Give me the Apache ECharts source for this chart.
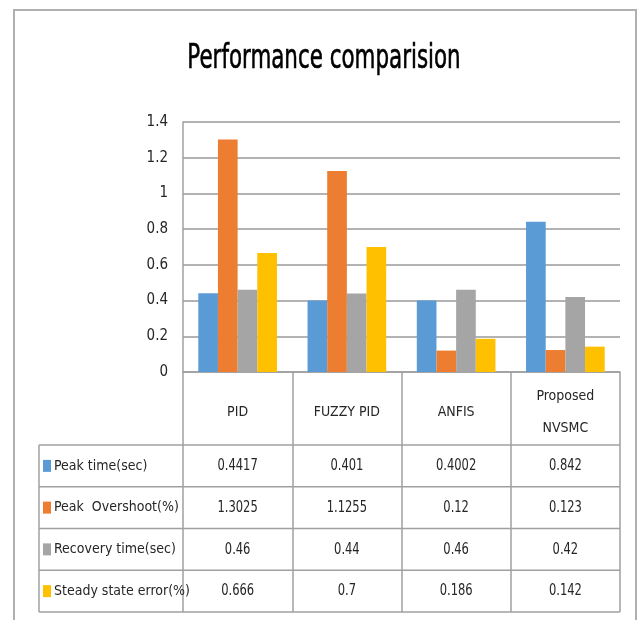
<!DOCTYPE html>
<html><head><meta charset="utf-8">
<script src="https://cdn.jsdelivr.net/npm/echarts@6/dist/echarts.min.js"></script>
<style>html,body{margin:0;padding:0;background:#fff}#c{width:643px;height:620px}</style>
</head><body><div id="c"></div>
<script>
// ---- data ----
const categories = ['PID', 'FUZZY PID', 'ANFIS', 'Proposed\nNVSMC'];
const seriesNames = ['Peak time(sec)', 'Peak  Overshoot(%)', 'Recovery time(sec)', 'Steady state error(%)'];
const peakTime = [0.4417, 0.401, 0.4002, 0.842];
const peakOvershoot = [1.3025, 1.1255, 0.12, 0.123];
const recoveryTime = [0.46, 0.44, 0.46, 0.42];
const steadyStateError = [0.666, 0.7, 0.186, 0.142];
const yTicks = [0, 0.2, 0.4, 0.6, 0.8, 1, 1.2, 1.4];
const titleText = 'Performance comparision';

// ---- style / layout ----
const colors = ['#5B9BD5', '#ED7D31', '#A5A5A5', '#FFC000'];
const FONT = "'Liberation Sans Narrow','Arial Narrow','DejaVu Sans Condensed',sans-serif";
const lineCol = '#a0a0a0';
const textCol = '#262626';
const gridL = 183, gridR = 620, gridT = 122, axisY = 372;
const tableL = 39, headerB = 445, rowH = 41.75, tableB = headerB + 4 * rowH;

const allSeries = [peakTime, peakOvershoot, recoveryTime, steadyStateError];

const chart = echarts.init(document.getElementById('c'), null, {renderer: 'canvas'});
chart.setOption({
  animation: false,
  color: colors,
  legend: {
    orient: 'vertical', left: tableL + 4, top: headerB + rowH / 2 - 7, padding: 0,
    itemWidth: 8, itemHeight: 12, itemGap: rowH - 14,
    icon: 'rect', selectedMode: false,
    textStyle: {fontFamily: FONT, fontSize: 14, color: textCol, padding: [0, 0, 0, -2]},
    data: seriesNames
  },
  grid: {left: gridL, right: 643 - gridR, top: gridT, bottom: 620 - axisY, containLabel: false},
  xAxis: {
    type: 'category', data: categories,
    axisLine: {show: true, lineStyle: {color: lineCol, width: 1.5}},
    axisTick: {show: true, length: tableB - axisY, lineStyle: {color: lineCol, width: 1.5}},
    axisLabel: {
      margin: 40, verticalAlign: 'middle', lineHeight: 32,
      fontFamily: FONT, fontSize: 14, color: textCol
    }
  },
  yAxis: {
    type: 'value', min: yTicks[0], max: yTicks[yTicks.length - 1], interval: yTicks[1] - yTicks[0],
    axisLine: {show: true, lineStyle: {color: lineCol, width: 1.5}},
    axisTick: {show: false},
    splitLine: {lineStyle: {color: '#9a9a9a', width: 1.5}},
    axisLabel: {margin: 15, fontFamily: FONT, fontSize: 15, color: textCol}
  },
  series: allSeries.map((d, i) => ({
    name: seriesNames[i], type: 'bar', data: d,
    barGap: '0%', barCategoryGap: '28%'
  }))
});

// ---- frame, title and data table ----
const g = [];
g.push({type: 'rect', shape: {x: 14, y: 10, width: 622, height: 625},
  style: {fill: 'none', stroke: '#b0b0b0', lineWidth: 2}, silent: true});
g.push({type: 'text', x: 324, y: 59, scaleX: 0.70, silent: true,
  style: {text: titleText, fontFamily: FONT, fontSize: 34, fontWeight: 'normal', fill: '#000',
    stroke: '#000', lineWidth: 0.6, align: 'center', verticalAlign: 'middle'}});
for (let r = 0; r <= 4; r++) {
  const y = headerB + r * rowH;
  g.push({type: 'line', shape: {x1: tableL, y1: y, x2: gridR, y2: y},
    style: {stroke: lineCol, lineWidth: 1.5}, silent: true});
}
g.push({type: 'line', shape: {x1: tableL, y1: headerB, x2: tableL, y2: tableB},
  style: {stroke: lineCol, lineWidth: 1.5}, silent: true});
allSeries.forEach((d, r) => {
  d.forEach((v, c) => {
    const x = chart.convertToPixel({xAxisIndex: 0}, c);
    g.push({type: 'text', x: x, y: headerB + (r + 0.5) * rowH, scaleX: 0.8, silent: true,
      style: {text: String(v), fontFamily: FONT, fontSize: 16, fill: textCol,
        align: 'center', verticalAlign: 'middle'}});
  });
});
chart.setOption({graphic: g});
</script>
</body></html>
